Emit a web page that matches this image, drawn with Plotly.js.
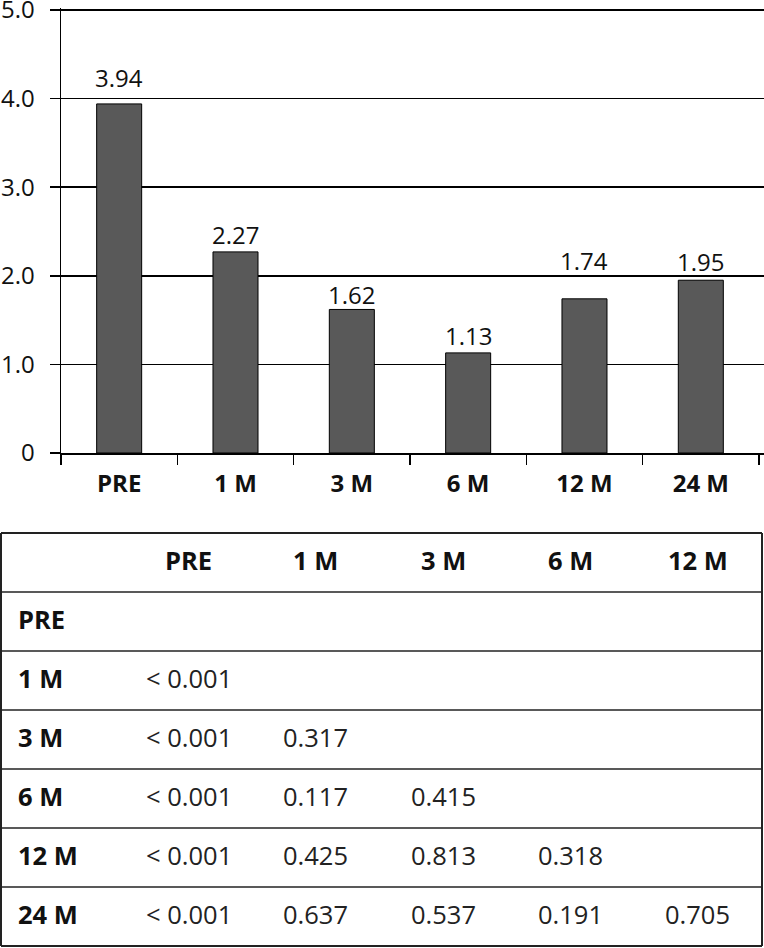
<!DOCTYPE html>
<html>
<head>
<meta charset="utf-8">
<script src="https://cdn.plot.ly/plotly-3.0.1.min.js"></script>
<style>html,body{margin:0;padding:0;background:#fff;}#chart{width:764px;height:948px;}</style>
</head>
<body>
<div id="chart"></div>
<script>
// ---- data ----
const categories = ["PRE", "1 M", "3 M", "6 M", "12 M", "24 M"];
const meanValues = [3.94, 2.27, 1.62, 1.13, 1.74, 1.95];
const yTickVals = [0, 1, 2, 3, 4, 5];
const yTickText = ["0", "1.0", "2.0", "3.0", "4.0", "5.0"];
const tableColHeaders = ["PRE", "1 M", "3 M", "6 M", "12 M"];
const tableRowHeaders = ["PRE", "1 M", "3 M", "6 M", "12 M", "24 M"];
const pPRE = ["", "< 0.001", "< 0.001", "< 0.001", "< 0.001", "< 0.001"];
const p1M  = ["", "", "0.317", "0.117", "0.425", "0.637"];
const p3M  = ["", "", "", "0.415", "0.813", "0.537"];
const p6M  = ["", "", "", "", "0.318", "0.191"];
const p12M = ["", "", "", "", "", "0.705"];

// ---- styling / layout ----
const W = 764, H = 948;
const FONT = "Open Sans, Noto Sans, sans-serif";
const FS = 24;      // chart text
const TFS = 25.5;   // table text
const labelShift = [26, 17, 15, 17, 38, 19]; // px offsets for value labels

const plotTop = 10, plotBottom = 453, plotLeft = 61, catPx = 116.33, unitPx = 88.6;
const yTop = 5.025;
const xMax = -0.5 + (W - plotLeft) / catPx;
const tableTop = 533, rowH = 59, nRows = 7;
const tableBottom = tableTop + rowH * nRows;
const rowLabelX = 16, firstColW = 124, colW = 127.3, tableLeft = 1, tableRight = 762;
const textLift = 3;

const py = px => (H - px) / H; // pixel -> paper y
const pxX = px => px / W;      // pixel -> paper x

const barTrace = {
  type: "bar",
  x: categories,
  y: meanValues,
  marker: {color: "#595959", line: {color: "#000", width: 1}},
  hoverinfo: "skip"
};

// table lines
const shapes = [];
for (let i = 0; i <= nRows; i++) {
  const yy = py(tableTop + i * rowH);
  shapes.push({type: "line", xref: "paper", yref: "paper", x0: pxX(tableLeft), x1: pxX(tableRight), y0: yy, y1: yy,
    line: {color: "#222", width: i === 0 || i === nRows ? 2 : 1.5}});
}
[tableLeft, tableRight].forEach(xp => shapes.push({type: "line", xref: "paper", yref: "paper",
  x0: pxX(xp), x1: pxX(xp), y0: py(tableBottom), y1: py(tableTop), line: {color: "#222", width: 2}}));

const annotations = [];
// bar value labels
categories.forEach((c, i) => annotations.push({
  x: c, y: meanValues[i], xref: "x", yref: "y",
  text: meanValues[i].toFixed(2), showarrow: false,
  yanchor: "middle", yshift: labelShift[i],
  font: {family: FONT, size: FS, color: "#111"}
}));

// table cells
const rowCenter = r => py(tableTop + rowH * (r + 0.5) - textLift);
const colCenter = c => pxX(tableLeft + firstColW + colW * (c + 0.5));
tableColHeaders.forEach((h, c) => annotations.push({
  xref: "paper", yref: "paper", x: colCenter(c), y: rowCenter(0),
  text: "<b>" + h + "</b>", showarrow: false, xanchor: "center", yanchor: "middle",
  font: {family: FONT, size: TFS, color: "#111"}
}));
tableRowHeaders.forEach((h, r) => annotations.push({
  xref: "paper", yref: "paper", x: pxX(rowLabelX), y: rowCenter(r + 1),
  text: "<b>" + h + "</b>", showarrow: false, xanchor: "left", yanchor: "middle",
  font: {family: FONT, size: TFS, color: "#111"}
}));
[pPRE, p1M, p3M, p6M, p12M].forEach((col, c) => col.forEach((v, r) => {
  if (!v) return;
  annotations.push({
    xref: "paper", yref: "paper", x: colCenter(c), y: rowCenter(r + 1),
    text: v.replace("<", "&lt;"), showarrow: false, xanchor: "center", yanchor: "middle",
    font: {family: FONT, size: TFS, color: "#222"}
  });
}));

const layout = {
  width: W, height: H,
  margin: {l: 0, r: 0, t: 0, b: 0},
  paper_bgcolor: "#fff", plot_bgcolor: "#fff",
  showlegend: false,
  bargap: 0.613,
  font: {family: FONT, size: FS, color: "#111"},
  xaxis: {
    domain: [pxX(plotLeft), 1],
    range: [-0.5, xMax],
    type: "category",
    showgrid: false, zeroline: false,
    showline: true, linecolor: "#000", linewidth: 1.5,
    ticks: "outside", tickson: "boundaries", ticklen: 10, tickcolor: "#000", tickwidth: 1.5,
    ticklabelstandoff: 9,
    tickfont: {family: FONT, size: FS, color: "#111", weight: "bold"},
    fixedrange: true
  },
  yaxis: {
    domain: [py(plotBottom), py(plotBottom - yTop * unitPx)],
    range: [0, yTop],
    tickvals: yTickVals, ticktext: yTickText,
    showgrid: true, gridcolor: "#000", gridwidth: 1.5,
    zeroline: false,
    showline: true, linecolor: "#000", linewidth: 1.5,
    ticks: "outside", ticklen: 10, tickcolor: "#000", tickwidth: 1.5,
    ticklabelstandoff: 10,
    ticklabeloverflow: "allow",
    tickfont: {family: FONT, size: FS, color: "#111"},
    fixedrange: true
  },
  shapes: shapes,
  annotations: annotations
};

Plotly.newPlot("chart", [barTrace], layout, {displayModeBar: false, staticPlot: true});
</script>
</body>
</html>
